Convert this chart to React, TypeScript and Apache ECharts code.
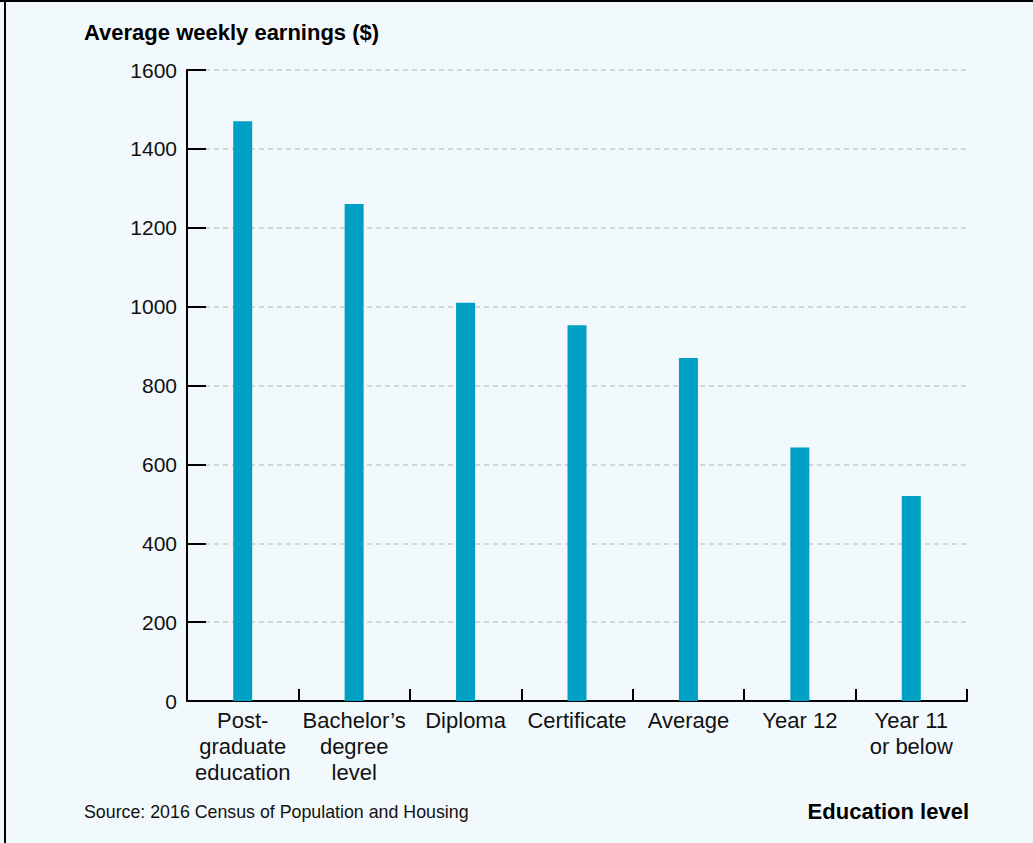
import React, { useEffect, useRef } from "react";
import * as echarts from "echarts";

const categories = [
  "Post-\ngraduate\neducation",
  "Bachelor’s\ndegree\nlevel",
  "Diploma",
  "Certificate",
  "Average",
  "Year 12",
  "Year 11\nor below",
];
const earnings = [1470, 1260, 1010, 953, 870, 643, 520];
const yTicks = { min: 0, max: 1600, interval: 200 };

const titleText = "Average weekly earnings ($)";
const xAxisTitle = "Education level";
const sourceText = "Source: 2016 Census of Population and Housing";

const FONT = '"Liberation Sans", Arial, Helvetica, sans-serif';

export default function App() {
  const ref = useRef<HTMLDivElement>(null);
  useEffect(() => {
    if (!ref.current) return;
    const chart = echarts.init(ref.current, null, { renderer: "svg" });
    chart.setOption({
      animation: false,
      backgroundColor: "#f2f9fc",
      textStyle: { fontFamily: FONT },
      grid: {
        left: 187,
        right: 66,
        top: 70,
        bottom: 142,
        outerBoundsMode: "none",
        containLabel: false,
      },
      xAxis: {
        type: "category",
        data: categories,
        boundaryGap: true,
        axisLine: { show: true, lineStyle: { color: "#000", width: 2 } },
        axisTick: {
          show: true,
          inside: true,
          length: 12,
          interval: 0,
          lineStyle: { color: "#000", width: 2 },
        },
        axisLabel: {
          interval: 0,
          margin: 6,
          color: "#111",
          fontSize: 22,
          lineHeight: 26,
          fontFamily: FONT,
        },
        splitLine: { show: false },
      },
      yAxis: {
        type: "value",
        min: yTicks.min,
        max: yTicks.max,
        interval: yTicks.interval,
        axisLine: { show: true, lineStyle: { color: "#000", width: 2 } },
        axisTick: {
          show: true,
          inside: true,
          length: 19,
          lineStyle: { color: "#000", width: 2 },
        },
        axisLabel: {
          margin: 10,
          color: "#111",
          fontSize: 21,
          fontFamily: FONT,
          formatter: (v: number) => String(v),
        },
        splitLine: {
          show: true,
          lineStyle: { color: "#c8cbcd", width: 1.5, type: [5, 4] },
        },
      },
      series: [
        {
          type: "bar",
          data: earnings,
          barWidth: 19,
          itemStyle: { color: "#00a0c4" },
        },
      ],
      graphic: [
        { type: "rect", left: 0, top: 0, shape: { width: 1033, height: 2 }, style: { fill: "#000" } },
        { type: "rect", left: 4, top: 0, shape: { width: 2, height: 843 }, style: { fill: "#000" } },
        {
          type: "text",
          left: 84,
          top: 21,
          style: { text: titleText, fill: "#000", font: `bold 22px ${FONT}` },
        },
        {
          type: "text",
          left: 84,
          top: 803,
          style: { text: sourceText, fill: "#111", font: `17.8px ${FONT}` },
        },
        {
          type: "text",
          right: 64,
          top: 800,
          style: { text: xAxisTitle, fill: "#000", font: `bold 22px ${FONT}` },
        },
      ],
    });
    return () => chart.dispose();
  }, []);
  return (
    <div
      ref={ref}
      style={{ position: "absolute", left: 0, top: 0, width: 1033, height: 843 }}
    />
  );
}
